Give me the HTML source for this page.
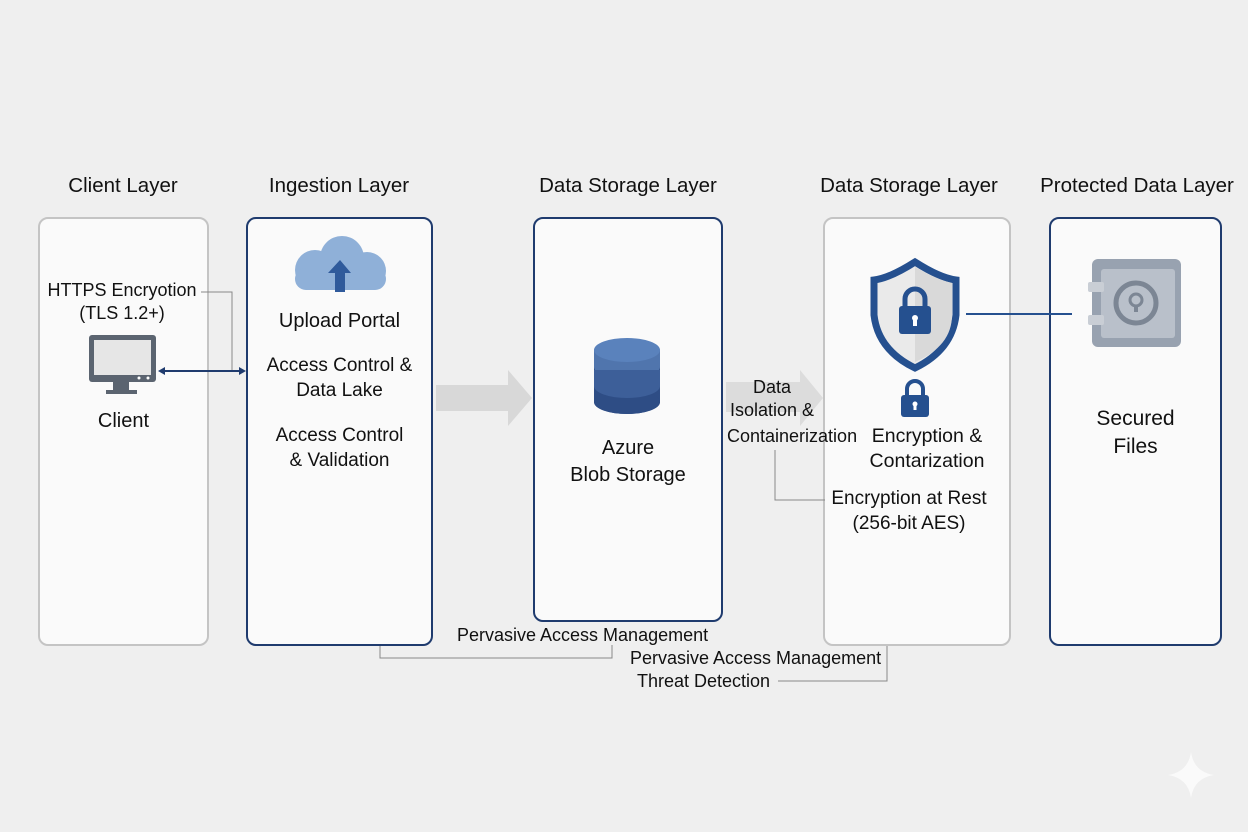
<!DOCTYPE html>
<html><head><meta charset="utf-8"><style>
body{margin:0;width:1248px;height:832px;background:#efefef;font-family:"Liberation Sans",sans-serif;color:#111;overflow:hidden;position:relative}
.t{position:absolute;font-size:20.5px;text-align:center;white-space:nowrap}
.b{position:absolute;background:#fafafa;border-radius:10px;box-sizing:border-box}
.s{position:absolute;font-size:18px;white-space:nowrap;text-align:center;line-height:23px}
.m{position:absolute;font-size:20px;white-space:nowrap;text-align:center;line-height:25px}
</style></head><body>
<div class="t" style="left:38px;width:170px;top:174px">Client Layer</div>
<div class="t" style="left:246px;width:186px;top:174px">Ingestion Layer</div>
<div class="t" style="left:510px;width:236px;top:174px">Data Storage Layer</div>
<div class="t" style="left:800px;width:218px;top:174px">Data Storage Layer</div>
<div class="t" style="left:1027px;width:220px;top:174px">Protected Data Layer</div>

<div class="b" style="left:38px;top:217px;width:171px;height:429px;border:2px solid #c4c4c4"></div>
<div class="b" style="left:246px;top:217px;width:187px;height:429px;border:2px solid #1f3b6e"></div>
<div class="b" style="left:533px;top:217px;width:190px;height:405px;border:2px solid #1f3b6e"></div>
<div class="b" style="left:823px;top:217px;width:188px;height:429px;border:2px solid #c4c4c4"></div>
<div class="b" style="left:1049px;top:217px;width:173px;height:429px;border:2px solid #1f3b6e"></div>

<svg width="1248" height="832" style="position:absolute;left:0;top:0">
<polygon points="436,385 508,385 508,370 532,398 508,426 508,411 436,411" fill="#d8d8d8"/>
<polygon points="726,382 800,382 800,370 823,398 800,426 800,412 726,412" fill="#dcdcdc"/>
<polyline points="201,292 232,292 232,370" fill="none" stroke="#888" stroke-width="1"/>
<line x1="162" y1="371" x2="242" y2="371" stroke="#1f3b6e" stroke-width="2"/>
<polygon points="158,371 165,367 165,375" fill="#1f3b6e"/>
<polygon points="246,371 239,367 239,375" fill="#1f3b6e"/>
<rect x="89" y="335" width="67" height="47" rx="3" fill="#5b6470"/>
<rect x="94" y="340" width="57" height="35" fill="#e6e6e6"/>
<rect x="113" y="382" width="16" height="8" fill="#5b6470"/>
<rect x="106" y="390" width="31" height="4" fill="#5b6470"/>
<circle cx="139" cy="378" r="1.5" fill="#fff"/><circle cx="148" cy="378" r="1.5" fill="#fff"/>
<g fill="#8fb0d8">
<circle cx="342" cy="258" r="22"/><circle cx="315" cy="270" r="20"/><circle cx="367" cy="271" r="19"/>
<rect x="295" y="268" width="91" height="22" rx="11"/></g>
<polygon points="340,260 351,273 345,273 345,292 335,292 335,273 328,273" fill="#2f5a9b"/>
<path d="M594,350 v52 a33,12 0 0 0 66,0 v-52 z" fill="#2e4d85"/>
<ellipse cx="627" cy="402" rx="33" ry="12" fill="#2e4d85"/>
<path d="M594,350 v17 a33,12 0 0 0 66,0 v-17 z" fill="#5075ad"/>
<path d="M594,370 v16 a33,12 0 0 0 66,0 v-16 z" fill="#3d5f99"/>
<ellipse cx="627" cy="350" rx="33" ry="12" fill="#5a82bc"/>
<path d="M915,262 Q890,278 874,280 V315 Q878,350 915,368 Q952,350 956,315 V280 Q940,278 915,262Z" fill="#eaeaea" stroke="#25508f" stroke-width="7"/>
<path d="M915,267 V362 Q952,346 952,315 V283 Q938,280 915,267Z" fill="#d9d9d9"/>
<path d="M905,307 v-8 a10,10 0 0 1 20,0 v8" fill="none" stroke="#25508f" stroke-width="5"/>
<rect x="899" y="306" width="32" height="28" rx="3" fill="#25508f"/>
<circle cx="915" cy="318" r="3" fill="#fff"/><rect x="913" y="319" width="4" height="7" fill="#fff"/>
<path d="M907,396 v-7 a8,8 0 0 1 16,0 v7" fill="none" stroke="#25508f" stroke-width="4"/>
<rect x="901" y="395" width="28" height="22" rx="3" fill="#25508f"/>
<circle cx="915" cy="404" r="2.5" fill="#fff"/><rect x="913.5" y="405" width="3" height="5" fill="#fff"/>
<line x1="966" y1="314" x2="1072" y2="314" stroke="#25508f" stroke-width="2"/>
<rect x="1092" y="259" width="89" height="88" rx="6" fill="#98a2b0"/>
<rect x="1101" y="269" width="74" height="69" rx="3" fill="#b9c0ca"/>
<rect x="1088" y="282" width="16" height="10" rx="2" fill="#c9ced5"/>
<rect x="1088" y="315" width="16" height="10" rx="2" fill="#c9ced5"/>
<circle cx="1136" cy="303" r="20" fill="none" stroke="#7c8694" stroke-width="5"/>
<circle cx="1136" cy="300" r="6" fill="none" stroke="#7c8694" stroke-width="3"/>
<rect x="1134" y="305" width="4" height="7" fill="#7c8694"/>
<polyline points="775,450 775,500 825,500" fill="none" stroke="#888" stroke-width="1"/>
<polyline points="380,646 380,658 612,658 612,645" fill="none" stroke="#888" stroke-width="1"/>
<polyline points="778,681 887,681 887,646" fill="none" stroke="#888" stroke-width="1"/>
<path d="M1191,752 Q1194,772 1214,775 Q1194,778 1191,798 Q1188,778 1168,775 Q1188,772 1191,752Z" fill="#fafafa"/>
</svg>

<div class="s" style="left:40px;width:164px;top:279px">HTTPS Encryotion<br>(TLS 1.2+)</div>
<div class="m" style="left:38px;width:171px;top:409px">Client</div>
<div class="m" style="left:246px;width:187px;top:309px">Upload Portal</div>
<div class="m" style="left:246px;width:187px;top:353px;font-size:19px">Access Control &amp;<br>Data Lake</div>
<div class="m" style="left:246px;width:187px;top:423px;font-size:19px">Access Control<br>&amp; Validation</div>
<div class="m" style="left:533px;width:190px;top:435px;line-height:27px">Azure<br>Blob Storage</div>
<div class="s" style="left:722px;width:100px;top:376px">Data<br>Isolation &amp;</div>
<div class="s" style="left:727px;top:425px;text-align:left">Containerization</div>
<div class="m" style="left:862px;width:130px;top:424px;font-size:19.5px">Encryption &amp;<br>Contarization</div>
<div class="s" style="left:820px;width:178px;top:486px;font-size:19px;line-height:25px">Encryption at Rest<br>(256-bit AES)</div>
<div class="m" style="left:1049px;width:173px;top:405px;line-height:28px;font-size:21px">Secured<br>Files</div>
<div class="s" style="left:457px;top:624px">Pervasive Access Management</div>
<div class="s" style="left:630px;top:647px">Pervasive Access Management</div>
<div class="s" style="left:637px;top:670px">Threat Detection</div>
</body></html>
